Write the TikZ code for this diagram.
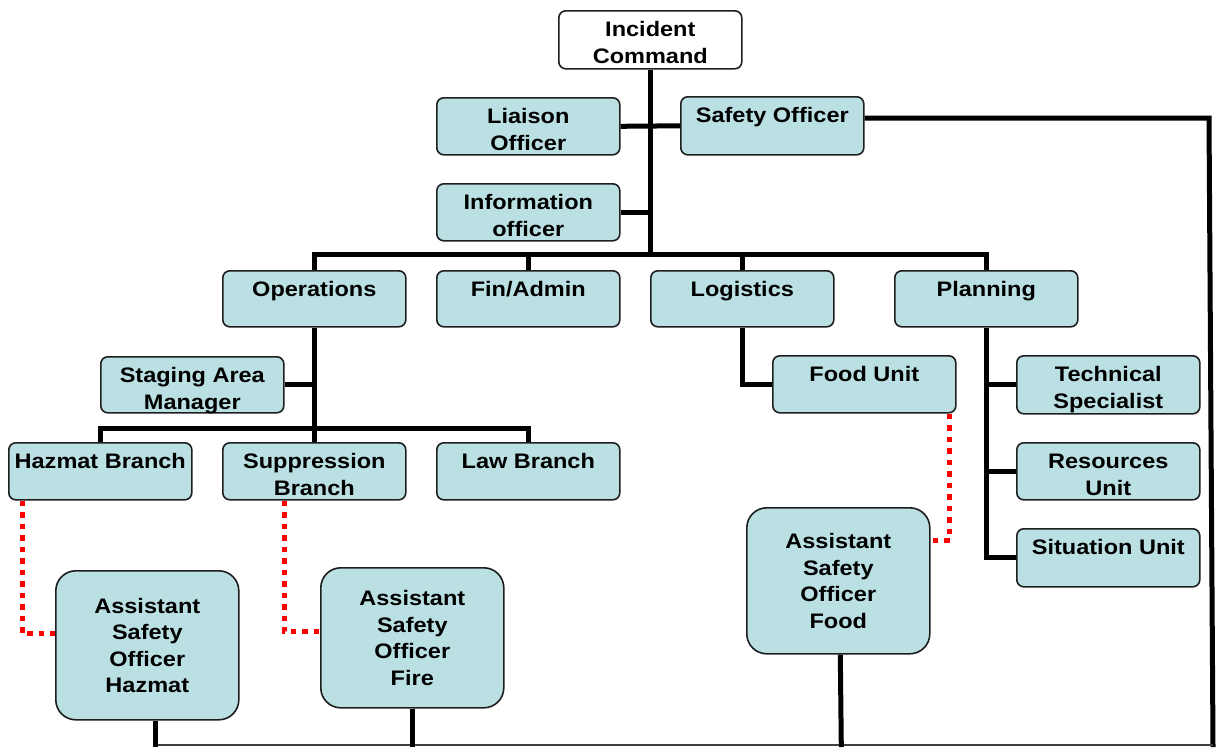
\documentclass[tikz,border=0pt]{standalone}
\usepackage{fontspec}
\usepackage{tikz}
\usetikzlibrary{calc}
\usetikzlibrary{positioning}
\newfontfamily\boxfont{Liberation Sans}[FakeStretch=1.12]
\definecolor{boxblue}{RGB}{187,224,227}
\definecolor{boxline}{RGB}{30,30,30}
% text sits at the top of the plain boxes
\newcommand{\toplines}[2][57pt]{\parbox[c][#1][t]{183pt}{\centering\rule{0pt}{26pt}#2}}

\tikzset{
  unitbox/.style={draw=boxline, line width=1.6pt, fill=boxblue, rounded corners=7pt,
                  inner sep=0pt, anchor=north west,
                  font=\boxfont\bfseries\fontsize{21}{26.5}\selectfont},
  assistbox/.style={unitbox, rounded corners=20pt, minimum width=183pt, align=center},
  orgline/.style={line width=5pt},
  dotlink/.style={red, line width=5pt, dash pattern=on 5.5pt off 6pt},
  floorline/.style={line width=1.5pt, black!75}
}

\begin{document}
\begin{tikzpicture}[x=1pt, y=-1pt]
            % Frame to fix the page size:
            \useasboundingbox                                                  (0,0) rectangle (1217,747);
            % Command and command staff
            \node[unitbox, fill=white] (ic)        at ( 558, 10) {\toplines[58pt]{Incident\\Command}};
            \node[unitbox]             (liaison)   at ( 436, 97) {\toplines{Liaison\\Officer}};
            \node[unitbox]             (safety)    at ( 680, 96) {\toplines[58pt]{Safety Officer}};
            \node[unitbox]             (info)      at ( 436,183) {\toplines{Information\\officer}};
            % General staff
            \node[unitbox]             (ops)       at ( 222,270) {\toplines[56pt]{Operations}};
            \node[unitbox]             (finadmin)  at ( 436,270) {\toplines[56pt]{Fin/Admin}};
            \node[unitbox]             (logistics) at ( 650,270) {\toplines[56pt]{Logistics}};
            \node[unitbox]             (planning)  at ( 894,270) {\toplines[56pt]{Planning}};
            % Branches and units
            \node[unitbox]             (staging)   at ( 100,356) {\toplines[56pt]{Staging Area\\Manager}};
            \node[unitbox]             (foodunit)  at ( 772,355) {\toplines{Food Unit}};
            \node[unitbox]             (techspec)  at (1016,355) {\toplines[58pt]{Technical\\Specialist}};
            \node[unitbox]             (hazmat)    at (   8,442) {\toplines{Hazmat Branch}};
            \node[unitbox]             (suppr)     at ( 222,442) {\toplines{Suppression\\Branch}};
            \node[unitbox]             (law)       at ( 436,442) {\toplines{Law Branch}};
            \node[unitbox]             (resunit)   at (1016,442) {\toplines{Resources\\Unit}};
            \node[unitbox]             (situnit)   at (1016,528) {\toplines[58pt]{Situation Unit}};
            % Assistant safety officers
            \node[assistbox, minimum height=149pt] (asohazmat) at ( 55,570) {Assistant\\Safety\\Officer\\Hazmat};
            \node[assistbox, minimum height=140pt] (asofire)   at (320,567) {Assistant\\Safety\\Officer\\Fire};
            \node[assistbox, minimum height=146pt] (asofood)   at (746,507) {Assistant\\Safety\\Officer\\Food};
            % Rails
            \coordinate (bus)       at (649,254);
            \coordinate (branchbus) at (313,428);
            \coordinate (sorail)    at (1209,118);
            \coordinate (sofoot)    at (1213,747);
            \coordinate (floor)     at (155,745);
            \coordinate (floorend)  at (1213,745);
            % Chain of command
            \draw[orgline] (ic.south) -- (ic.south |- bus);
            \draw[orgline] (liaison.east) -- (safety.west);
            \draw[orgline] (info.east) -- (info.east -| ic.south);
            \draw[orgline] (ops.north) -- (ops.north |- bus) -- (planning.north |- bus) -- (planning.north);
            \draw[orgline] (finadmin.north) -- (finadmin.north |- bus);
            \draw[orgline] (logistics.north) -- (logistics.north |- bus);
            \draw[orgline] (ops.south) -- (suppr.north);
            \draw[orgline] (staging.east) -- (staging.east -| ops.south);
            \draw[orgline] (hazmat.north) -- (hazmat.north |- branchbus) -- (law.north |- branchbus) -- (law.north);
            \draw[orgline] (logistics.south) |- (foodunit.west);
            \draw[orgline] (planning.south) |- (situnit.west);
            \draw[orgline] (techspec.west) -- (techspec.west -| planning.south);
            \draw[orgline] (resunit.west) -- (resunit.west -| planning.south);
            % Safety Officer to its assistants
            \draw[orgline] (safety.east |- sorail) -- (sorail) -- (sofoot);
            \draw[floorline] (floor) -- (floorend);
            \draw[orgline] (asohazmat.south -| floor) -- (floor |- sofoot);
            \draw[orgline] (asofire.south) -- (asofire.south |- sofoot);
            \draw[orgline] ([xshift=2pt]asofood.south) -- ([xshift=3pt]asofood.south |- sofoot);
            % Dotted links to the assistants
            \draw[dotlink] ([xshift=14pt]hazmat.south west) |- ([yshift=12pt]asohazmat.west);
            \draw[dotlink] ([xshift=62pt]suppr.south west) |- ([yshift=6pt]asofire.west);
            \draw[dotlink] ([xshift=-7pt]foodunit.south east) |- ([yshift=-33pt]asofood.north east);
\end{tikzpicture}
\end{document}
